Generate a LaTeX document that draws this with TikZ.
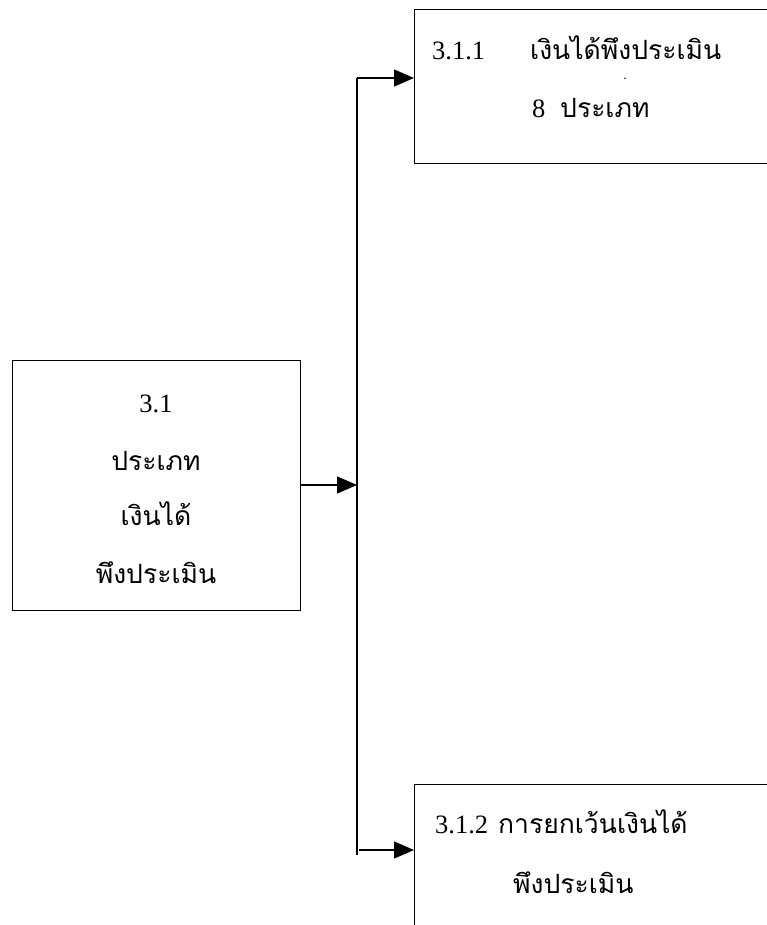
\documentclass[tikz,border=0pt]{standalone}
\usepackage{fontspec}
\setmainfont{Liberation Serif}
\newfontfamily\thaifont[Script=Thai]{Loma}
\usetikzlibrary{arrows.meta}
\tikzset{
  boxnode/.style={draw, line width=1.3pt, rectangle, inner sep=0pt, anchor=north west},
  conn/.style={line width=1.3pt},
  arr/.style={conn, -{Triangle[length=20pt,width=17pt]}},
  lat/.style={font=\fontsize{26.5}{30}\selectfont, inner sep=0pt, anchor=base},
  thi/.style={font=\thaifont\fontsize{26.5}{30}\selectfont, inner sep=0pt, anchor=base},
}
\begin{document}
\begin{tikzpicture}[x=1pt,y=-1pt]
\useasboundingbox (0,0) rectangle (767,925);
\clip (0,0) rectangle (767,925);
% boxes
\node[boxnode, minimum width=288pt, minimum height=250pt] (b31) at (12,360) {};
\node[boxnode, minimum width=380pt, minimum height=154pt] (b311) at (414,9) {};
\node[boxnode, minimum width=380pt, minimum height=170pt] (b312) at (414,784) {};
% trunk
\coordinate (mid) at (357,485);
\coordinate (top) at (357,78);
\coordinate (bot) at (357,855);
\coordinate (botarr) at (359,850);
\draw[arr] (b31.east |- mid) -- (mid);
\draw[conn] (top) -- (bot);
\draw[arr] (top) -- (b311.west |- top);
\draw[arr] (botarr) -- (b312.west |- botarr);
% texts left box
\node[lat] (t31) at (156,412) {3.1};
\node[thi] (t31a) at (156,470) {ประเภท};
\node[thi] (t31b) at (156,525) {เงินได้};
\node[thi] (t31c) at (156,583) {พึงประเมิน};
% top box
\node[lat, anchor=base west] (n311) at (432,60) {3.1.1};
\node[thi, anchor=base west] (t311a) at (530,60) {เงินได้พึงประเมิน};
\node[lat, font=\bfseries\fontsize{10}{11}\selectfont] (dot) at (625,80) {.};
\node[lat, anchor=base west] (n8) at (532,118) {8};
\node[thi, anchor=base west] (t311b) at (560,118) {ประเภท};
% bottom box
\node[lat, anchor=base west] (n312) at (435,833) {3.1.2};
\node[thi, anchor=base west] (t312a) at (498,833) {การยกเว้นเงินได้};
\node[thi, anchor=base west] (t312b) at (513,893) {พึงประเมิน};
\end{tikzpicture}
\end{document}
